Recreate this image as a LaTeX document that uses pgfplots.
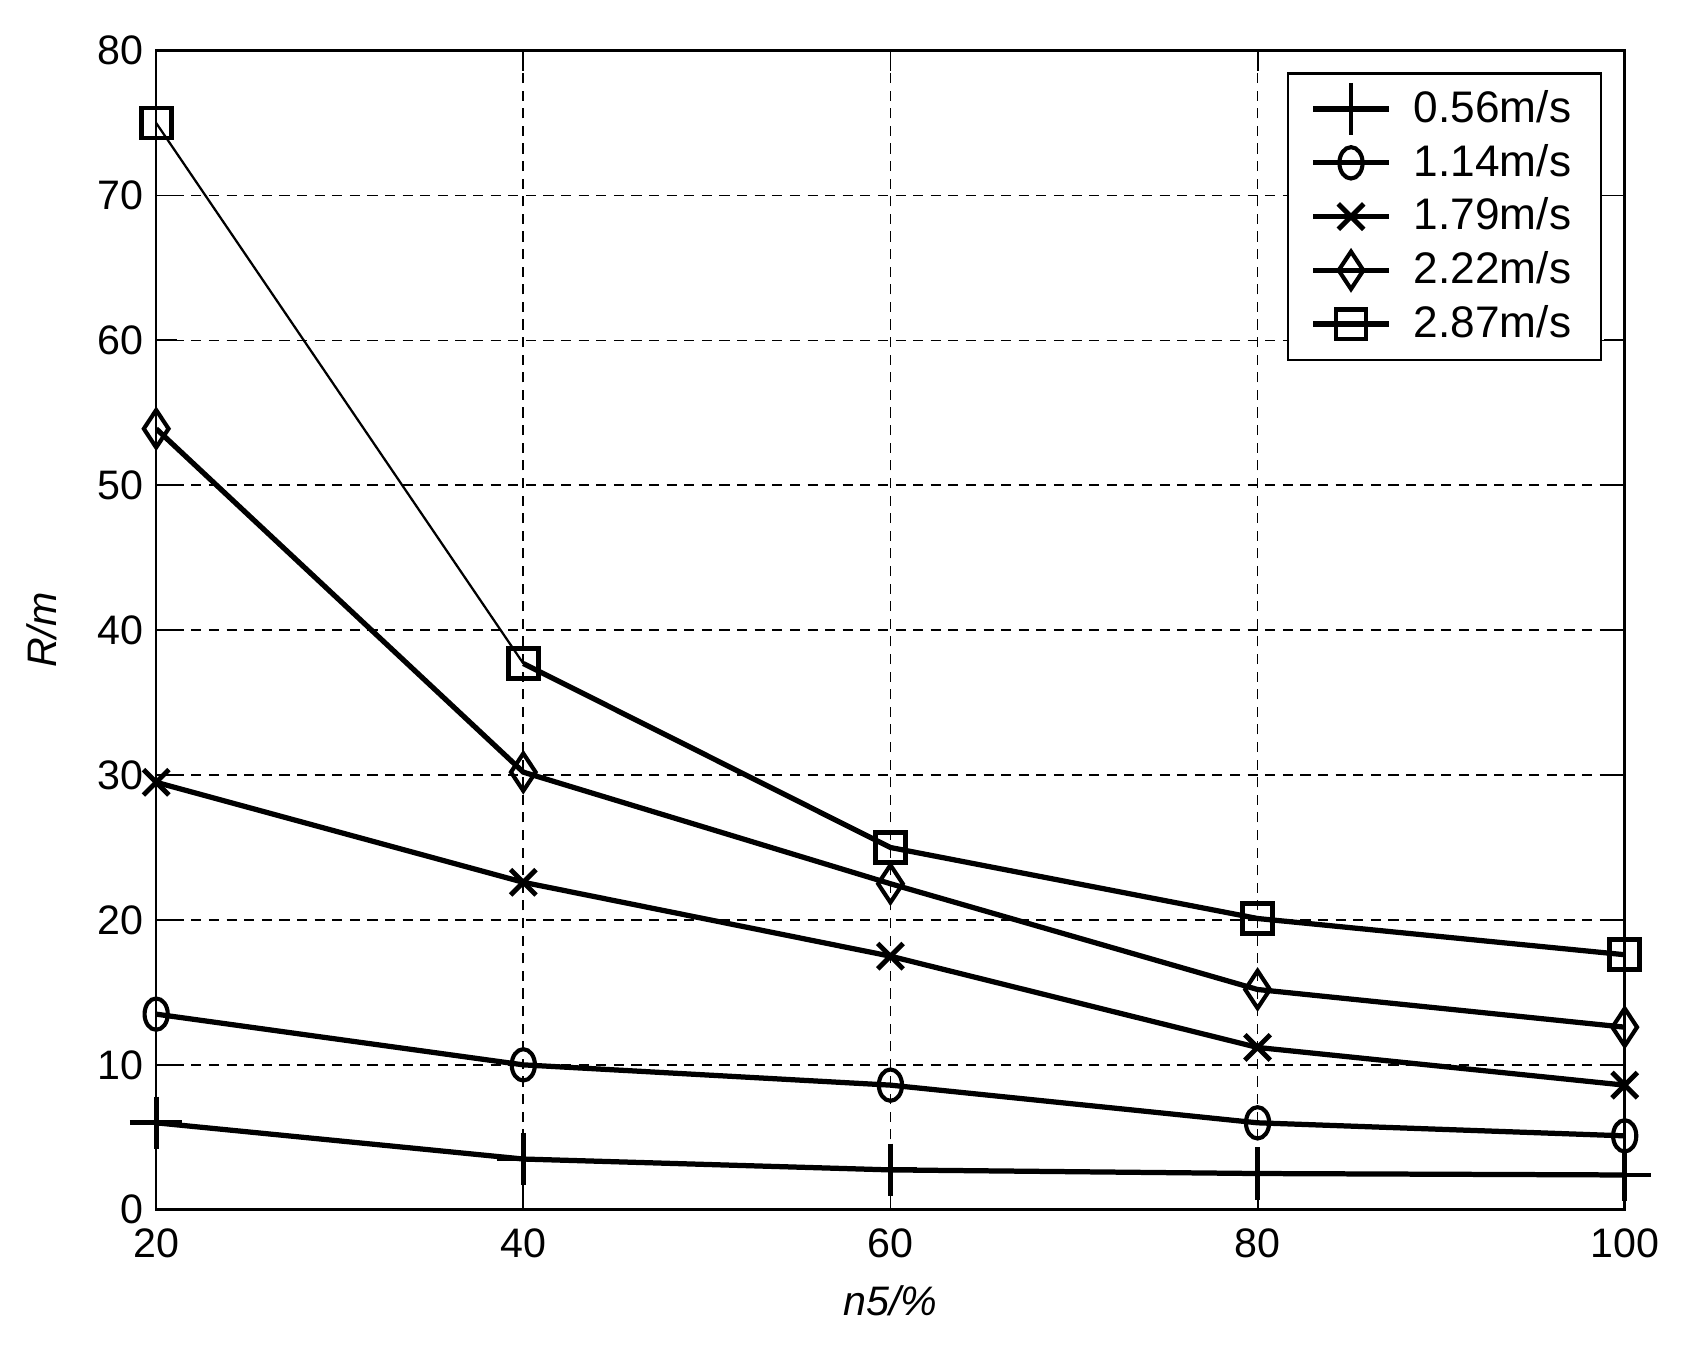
\documentclass[border=0pt]{standalone}
\usepackage{pgfplots}
\pgfplotsset{compat=1.18}
\usepackage{fontspec}
\setmainfont{Liberation Sans}
\begin{document}
\begin{tikzpicture}
\begin{axis}[
  name=ax,
  width=392.1pt, height=309.5pt, scale only axis,
  xmin=20, xmax=100, ymin=0, ymax=80,
  xtick={20,40,60,80,100}, ytick={0,10,...,80},
  grid=major,
  grid style={black, line width=0.45pt, dash pattern=on 2.7pt off 2pt},
  axis line style={line width=0.7pt},
  tick style={black, line width=0.5pt},
  tick align=inside, major tick length=5.5pt,
  xtick pos=both, ytick pos=both,
  /pgf/number format/assume math mode=true,
  ticklabel style={font=\fontsize{11}{13}\selectfont},
  xticklabel style={yshift=-1.5pt},
  xlabel={\textit{n5/\%}}, ylabel={\textit{R/m}},
  label style={font=\fontsize{11}{13}\selectfont},
  xlabel style={yshift=-0.5pt},
  ylabel style={yshift=4pt},
  legend style={at={(rel axis cs:1,1)}, anchor=north east, xshift=-6pt, yshift=-5.8pt,
    draw=black, line width=0.6pt, font=\fontsize{11.8}{13.5}\selectfont, row sep=0.3pt,
    inner xsep=6pt, inner ysep=2.5pt,
    /tikz/every odd column/.append style={column sep=4pt}},
  legend image code/.code={\draw[#1] (0cm,0cm) -- (0.71cm,0cm); \draw[#1, only marks] plot coordinates {(0.355cm,0cm)};},
  legend cell align=left,
  every axis plot/.append style={black, line width=1.4pt},
]
\addplot[mark=+, mark size=7pt, mark options={line width=1.3pt}] coordinates {(20,6.0) (40,3.5) (60,2.75) (80,2.5) (100,2.4)};
\addlegendentry{0.56m/s}
\addplot[mark=o, mark size=3.1pt, mark options={yscale=1.35, line width=1.1pt}] coordinates {(20,13.5) (40,10.0) (60,8.6) (80,6.0) (100,5.1)};
\addlegendentry{1.14m/s}
\addplot[mark=x, mark size=4.8pt, mark options={line width=1.3pt}] coordinates {(20,29.5) (40,22.6) (60,17.5) (80,11.2) (100,8.6)};
\addlegendentry{1.79m/s}
\addplot[mark=diamond, mark size=5pt, mark options={xscale=0.88, line width=1.1pt}] coordinates {(20,53.9) (40,30.2) (60,22.5) (80,15.2) (100,12.6)};
\addlegendentry{2.22m/s}
\addplot[mark=square, mark size=4pt, mark options={line width=1.3pt}] coordinates {(40,37.7) (60,25.0) (80,20.1) (100,17.6)};
\addlegendentry{2.87m/s}
\addplot[forget plot, line width=0.6pt, mark=square, mark size=4pt, mark options={line width=1.3pt}] coordinates {(20,75.0) (40,37.7)};
\end{axis}
\pgfresetboundingbox
\path ([xshift=-41.7pt,yshift=-36pt]ax.south west) rectangle ([xshift=16.1pt,yshift=13.5pt]ax.north east);
\end{tikzpicture}
\end{document}
